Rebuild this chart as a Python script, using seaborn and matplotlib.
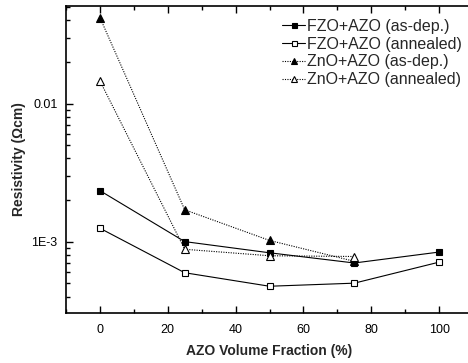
import matplotlib
matplotlib.use("Agg")
import matplotlib.pyplot as plt
import seaborn as sns
import pandas as pd
import numpy as np
from matplotlib.ticker import FixedLocator, FixedFormatter, MultipleLocator, NullFormatter

sns.set_theme(style="ticks")
plt.rcParams['font.family'] = ['Liberation Sans', 'DejaVu Sans']

x_frac = [0, 25, 50, 75, 100]
fzo_asdep = [2.34e-3, 1.0e-3, 8.3e-4, 7.0e-4, 8.4e-4]
fzo_ann = [1.25e-3, 5.95e-4, 4.75e-4, 5.0e-4, 7.1e-4]
zno_x = [0, 25, 50, 75]
zno_asdep = [4.2e-2, 1.70e-3, 1.02e-3, 7.2e-4]
zno_ann = [1.46e-2, 8.8e-4, 7.9e-4, 7.8e-4]

labels = ["FZO+AZO (as-dep.)", "FZO+AZO (annealed)",
          "ZnO+AZO (as-dep.)", "ZnO+AZO (annealed)"]

series = [
    (x_frac, fzo_asdep, labels[0], 's', 'black', '-'),
    (x_frac, fzo_ann, labels[1], 's', 'white', '-'),
    (zno_x, zno_asdep, labels[2], '^', 'black', (0, (1, 1.2))),
    (zno_x, zno_ann, labels[3], '^', 'white', (0, (1, 1.2))),
]

fig = plt.figure(figsize=(4.68, 3.63), dpi=100)
ax = fig.add_axes([66/468, 1 - 313/363, (473 - 66)/468, (313 - 6)/363])

for xs, ys, lab, mk, fc, ls in series:
    df = pd.DataFrame({"x": xs, "y": ys})
    ms = 4.5 if mk == 's' else 5.5
    sns.lineplot(data=df, x="x", y="y", ax=ax, color="black", linewidth=0.8,
                 linestyle=ls, marker=mk, markersize=ms, markerfacecolor=fc,
                 markeredgecolor="black", markeredgewidth=0.8, label=lab)

ax.set_yscale("log")
ax.set_xlim(-10, 110)
ax.set_ylim(3.04e-4, 5.09e-2)

ax.xaxis.set_major_locator(MultipleLocator(20))
ax.xaxis.set_minor_locator(MultipleLocator(10))
ax.yaxis.set_major_locator(FixedLocator([1e-3, 1e-2]))
ax.yaxis.set_major_formatter(FixedFormatter(["1E-3", "0.01"]))
minors = [m * 10.0**e for e in (-4, -3, -2) for m in range(2, 10)]
ax.yaxis.set_minor_locator(FixedLocator(minors))
ax.yaxis.set_minor_formatter(NullFormatter())

ax.tick_params(which="both", direction="in", top=True, right=False, width=1.0,
               labelsize=9, colors="black")
ax.tick_params(which="major", length=5, pad=6)
ax.tick_params(axis="x", which="major", pad=8)
ax.tick_params(which="minor", length=3)
for s in ax.spines.values():
    s.set_linewidth(1.2)
    s.set_color("black")
ax.spines["right"].set_visible(False)

ax.set_xlabel("AZO Volume Fraction (%)", fontsize=10, fontweight="bold", labelpad=6)
ax.set_ylabel("Resistivity (\u03a9cm)", fontsize=10, fontweight="bold", labelpad=4)

leg = ax.legend(loc="upper left", bbox_to_anchor=(282/468, 1 - 19/363),
                bbox_transform=fig.transFigure, frameon=False, fontsize=11.5,
                handlelength=1.45, handletextpad=0.12, labelspacing=0.17,
                borderaxespad=0, borderpad=0, markerscale=0.8)

fig.savefig("out.png", dpi=100)
